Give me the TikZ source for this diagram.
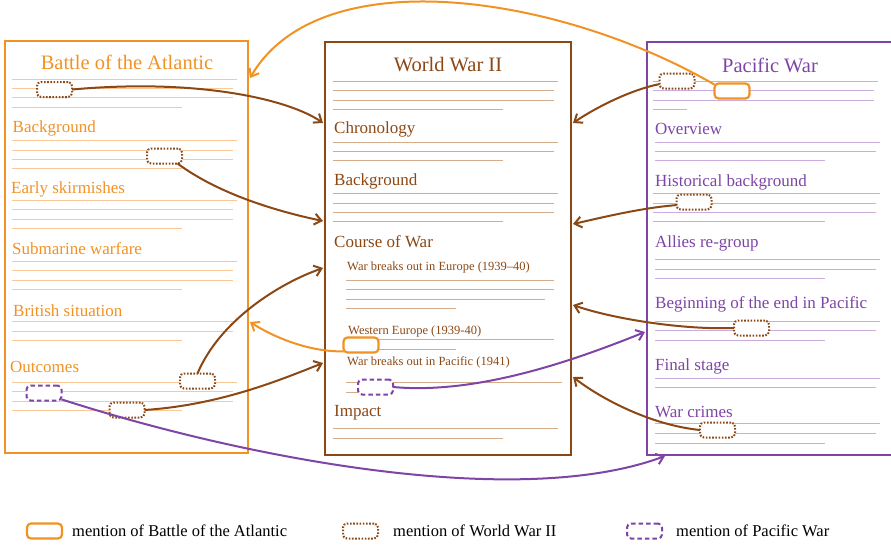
\documentclass[tikz,border=0pt]{standalone}
\usepackage{fontspec}
\setmainfont{Liberation Serif}
\usetikzlibrary{arrows.meta}
\definecolor{cA}{RGB}{241,146,36}
\definecolor{cW}{RGB}{140,72,20}
\definecolor{cP}{RGB}{126,68,166}
\definecolor{cAl}{RGB}{249,200,150}
\definecolor{cWl}{RGB}{212,172,138}
\definecolor{cPl}{RGB}{202,172,222}
\begin{document}
\begin{tikzpicture}[x=1pt,y=-1pt,
  panel/.style={line width=2.2pt, minimum width=#1, anchor=north west, outer sep=0pt, inner sep=0pt},
  ttl/.style={font=\fontsize{20.5}{24}\selectfont, anchor=base, inner sep=0pt},
  hd/.style={font=\fontsize{17}{20}\selectfont, anchor=base west, inner sep=0pt},
  sub/.style={font=\fontsize{12.5}{15}\selectfont, anchor=base west, inner sep=0pt},
  leg/.style={font=\fontsize{16.5}{19}\selectfont, anchor=base west, inner sep=0pt},
  ln/.style={line width=0.8pt},
  mk/.style={rounded corners=4pt, minimum width=35pt, minimum height=15pt, inner sep=0pt, outer sep=0pt, fill=white},
  mkA/.style={mk, draw=cA, line width=2.2pt},
  mkW/.style={mk, draw=cW, line width=2pt, dash pattern=on 1.6pt off 1.6pt},
  mkP/.style={mk, draw=cP, line width=2pt, dash pattern=on 4.5pt off 3pt},
  conn/.style={line width=2pt, -{Straight Barb[length=7pt,width=11pt]}}
]
\useasboundingbox (0,0) rectangle (891,544);

% text lines
\foreach \y/\a/\b in {79/12/237, 88/12/233, 97/12/233, 107/12/182,
  140/12/237, 150/12/233, 159/12/233, 168/12/182,
  200/12/237, 209/12/233, 219/12/233, 228/12/182,
  261/12/237, 270/12/233, 280/12/233, 289/12/182,
  321/12/237, 331/12/233, 340/12/182,
  382/12/237, 391/12/233, 401/12/233, 410/12/182}
  \draw[ln, cAl] (\a,\y) -- (\b,\y);
\foreach \y/\a/\b in {81/333/558, 90/333/554, 100/333/554, 109/333/503,
  142/333/558, 151/333/554, 160/333/503,
  193/333/558, 203/333/554, 212/333/554, 221/333/503,
  280/346/554, 289/346/554, 299/346/545, 308/346/456,
  339/348/554, 349/348/456,
  382/346/562, 392/346/375,
  428/333/558, 438/333/503}
  \draw[ln, cWl] (\a,\y) -- (\b,\y);
\foreach \y/\a/\b in {81/653/878, 90/653/874, 100/653/874, 109/653/687,
  142/655/880, 151/655/876, 160/655/825,
  193/653/880, 203/653/876, 212/653/876, 221/653/825,
  259/655/880, 269/655/876, 278/655/825,
  321/655/880, 330/655/876, 340/655/825,
  378/655/880, 387/655/876,
  423/655/880, 433/655/876, 443/655/825}
  \draw[ln, cPl] (\a,\y) -- (\b,\y);

% panels
\node[panel=243pt, draw=cA, minimum height=412pt] (pA) at (5,41) {};
\node[panel=246pt, draw=cW, minimum height=413pt] (pW) at (325,42) {};
\node[panel=250pt, draw=cP, minimum height=413pt] (pP) at (647,42) {};

% titles and headings: Battle of the Atlantic
\node[ttl, text=cA] (tA) at (127,69.5) {Battle of the Atlantic};
\node[hd, text=cA] (hA1) at (12.5,132.5) {Background};
\node[hd, text=cA] (hA2) at (11,193.5) {Early skirmishes};
\node[hd, text=cA] (hA3) at (12,254) {Submarine warfare};
\node[hd, text=cA] (hA4) at (13,316.5) {British situation};
\node[hd, text=cA] (hA5) at (10,372.5) {Outcomes};

% World War II
\node[ttl, text=cW] (tW) at (448,71) {World War II};
\node[hd, text=cW] (hW1) at (334,133.5) {Chronology};
\node[hd, text=cW] (hW2) at (334,185.5) {Background};
\node[hd, text=cW] (hW3) at (334,247) {Course of War};
\node[sub, text=cW] (sW1) at (347,270.5) {War breaks out in Europe (1939--40)};
\node[sub, text=cW] (sW2) at (348,334) {Western Europe (1939-40)};
\node[sub, text=cW] (sW3) at (347,365.5) {War breaks out in Pacific (1941)};
\node[hd, text=cW] (hW4) at (334,416) {Impact};

% Pacific War
\node[ttl, text=cP] (tP) at (770,72.5) {Pacific War};
\node[hd, text=cP] (hP1) at (655,134) {Overview};
\node[hd, text=cP] (hP2) at (655,186) {Historical background};
\node[hd, text=cP] (hP3) at (655,247) {Allies re-group};
\node[hd, text=cP] (hP4) at (655,308) {Beginning of the end in Pacific};
\node[hd, text=cP] (hP5) at (655,370) {Final stage};
\node[hd, text=cP] (hP6) at (655,417.5) {War crimes};

% mention markers
\node[mkW] (a1) at (54.5,89.5) {};
\node[mkW] (a2) at (164.5,156) {};
\node[mkW] (a3) at (197.5,381) {};
\node[mkP] (a4) at (44,393) {};
\node[mkW] (a5) at (127,410) {};
\node[mkA] (m1) at (361,345) {};
\node[mkP] (m2) at (375.5,387) {};
\node[mkW] (p1) at (677,81) {};
\node[mkA] (p2) at (732,91) {};
\node[mkW] (p3) at (694,202) {};
\node[mkW] (p4) at (751.5,328) {};
\node[mkW] (p5) at (717.5,430) {};

% arrow targets
\coordinate (t1) at (250,78);
\coordinate (t2) at (323,123);
\coordinate (t3) at (323,221);
\coordinate (t4) at (573,123);
\coordinate (t5) at (573,224);
\coordinate (t6) at (323,268);
\coordinate (t7) at (250,322);
\coordinate (t8) at (323,363);
\coordinate (t9) at (645,332);
\coordinate (t10) at (573,305);
\coordinate (t11) at (573,377);
\coordinate (t12) at (665,456);

% connectors
\draw[conn, cA] (p2.160) .. controls (560,-5) and (320,-42) .. (t1);
\draw[conn, cW] (a1.east) .. controls (200,78) and (290,100) .. (t2);
\draw[conn, cW] (a2.-30) .. controls (220,195) and (280,212) .. (t3);
\draw[conn, cW] (p1.190) .. controls (630,90) and (595,108) .. (t4);
\draw[conn, cW] (p3.190) .. controls (640,208) and (600,218) .. (t5);
\draw[conn, cW] (a3.north) .. controls (220,320) and (280,283) .. (t6);
\draw[conn, cA] (m1.200) .. controls (310,352) and (275,338) .. (t7);
\draw[conn, cW] (a5.east) .. controls (220,405) and (280,380) .. (t8);
\draw[conn, cP] (m2.east) .. controls (480,395) and (580,358) .. (t9);
\draw[conn, cW] (p4.west) .. controls (680,330) and (610,318) .. (t10);
\draw[conn, cW] (p5.west) .. controls (650,425) and (600,398) .. (t11);
\draw[conn, cP] (a4.-20) .. controls (250,460) and (520,510) .. (t12);

% legend
\node[mkA] (lgA) at (44.5,531) {};
\node[leg] (lgAt) at (72,536.5) {mention of Battle of the Atlantic};
\node[mkW] (lgW) at (360.5,531) {};
\node[leg] (lgWt) at (393,536.5) {mention of World War II};
\node[mkP] (lgP) at (644.5,531) {};
\node[leg] (lgPt) at (676,536.5) {mention of Pacific War};
\end{tikzpicture}
\end{document}
